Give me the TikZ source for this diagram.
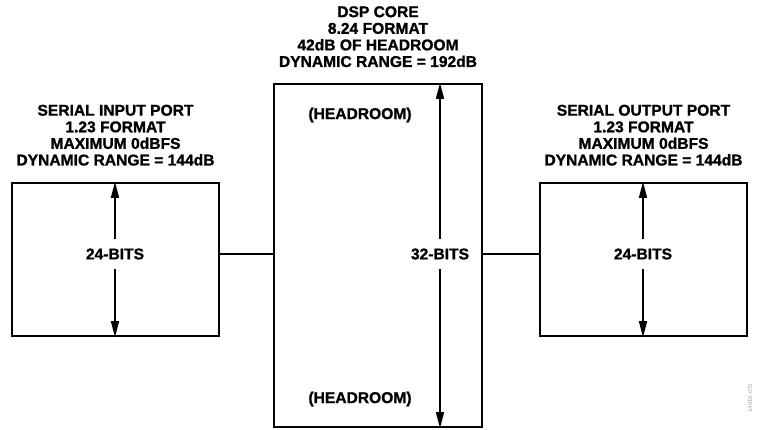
\documentclass[tikz,border=0pt]{standalone}
\usepackage{fontspec}
\setmainfont{Liberation Sans}[BoldFeatures={FakeBold=1.2}]
\usetikzlibrary{arrows.meta,positioning}
\tikzset{>={Triangle[length=16pt,width=8pt]}}
\tikzset{
  block/.style = {draw, line width=2.4pt, inner sep=0pt},
  caption/.style = {align=center, inner sep=0pt,
    font=\fontsize{15.6}{16.6}\selectfont\bfseries},
  bits/.style = {inner sep=0pt, minimum height=29pt,
    font=\fontsize{15.6}{16}\selectfont\bfseries},
  span/.style = {->, line width=1.5pt}
}

\begin{document}
\begin{tikzpicture}[x=1pt,y=-1pt]
  \useasboundingbox (0,0) rectangle (770,429);
  % blocks
  \node[block, minimum width=207pt, minimum height=153pt] (inport)  at (115.5,259.5) {};
  \node[block, minimum width=208pt, minimum height=343pt] (core)    at (378,255.5)   {};
  \node[block, minimum width=207pt, minimum height=153pt] (outport) at (643.5,259.5) {};
  % captions
  \node[caption, above=16pt of inport]  {SERIAL INPUT PORT\\1.23 FORMAT\\MAXIMUM 0dBFS\\DYNAMIC RANGE = 144dB};
  \node[caption, above=15.5pt of core]  {DSP CORE\\8.24 FORMAT\\42dB OF HEADROOM\\DYNAMIC RANGE = 192dB};
  \node[caption, above=16pt of outport] {SERIAL OUTPUT PORT\\1.23 FORMAT\\MAXIMUM 0dBFS\\DYNAMIC RANGE = 144dB};
  % widths
  \node[bits] (bitsin)  at (115,254) {24-BITS};
  \node[bits] (bitscore) at (440,254) {32-BITS};
  \node[bits] (bitsout) at (643,254) {24-BITS};
  \foreach \b/\n in {bitsin/inport, bitscore/core, bitsout/outport} {
    \draw[span] (\b.north) -- (\b |- \n.north);
    \draw[span] (\b.south) -- (\b |- \n.south);
  }
  % headroom
  \node[caption] (headtop) at (360,115) {(HEADROOM)};
  \node[caption] (headbot) at (360,399) {(HEADROOM)};
  % links
  \draw[line width=1.2pt] (inport.east |- bitsin) -- (core.west |- bitsin);
  \draw[line width=1.2pt] (core.east |- bitsin) -- (outport.west |- bitsin);
  % figure id
  \node[rotate=90, text=black!35, font=\fontsize{6}{7}\selectfont] (figid) at (750,398) {14010-070};
\end{tikzpicture}
\end{document}
